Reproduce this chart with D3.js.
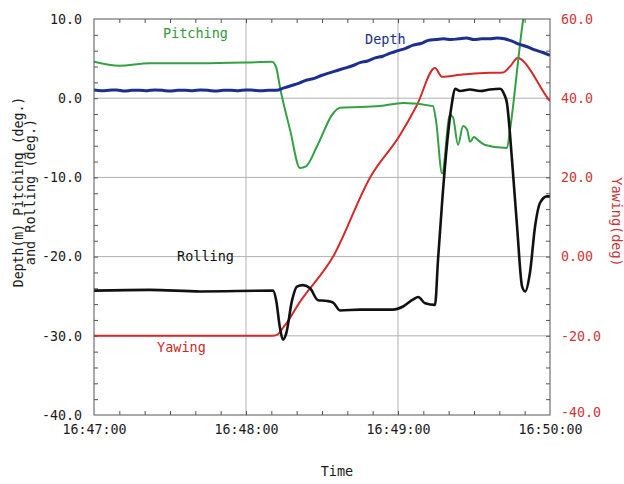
<!DOCTYPE html>
<html><head><meta charset="utf-8">
<script src="https://cdn.jsdelivr.net/npm/d3@7"></script>
<style>body{margin:0;background:#fff} text{font-family:"DejaVu Sans Mono","Liberation Mono",monospace}</style>
</head><body><svg id="c" width="624" height="484"></svg>
<script>
// ---- data (time in seconds after 16:47:00) ----
const timeTickLabels = ["16:47:00","16:48:00","16:49:00","16:50:00"];
const leftTicks = [10,0,-10,-20,-30,-40];
const rightTicks = [60,40,20,0,-20,-40];
const rightTickLabels = ["60.0","40.0","20.0","0.00","-20.0","-40.0"];

const depthT = [0,3,6,9,12,15,18,21,24,27,30,33,36,39,42,45,48,51,54,57,60,63,66,69,72,
  75,78,81,84,87,90,93,96,99,102,105,108,111,114,117,120,123,126,129,132,135,
  138,141,144,147,150,153,156,159,162,165,168,171,174,177,180];
const depthV = [1.05,0.95,1.0,1.05,0.9,1.0,1.0,0.95,1.05,1.0,0.9,1.0,1.0,0.95,1.05,1.0,0.9,1.0,1.0,0.95,1.05,1.0,0.95,1.0,1.0,
  1.3,1.6,1.9,2.3,2.5,2.9,3.2,3.5,3.8,4.1,4.5,4.7,5.1,5.3,5.7,6.0,6.3,6.7,6.9,7.3,7.4,
  7.5,7.4,7.5,7.6,7.4,7.5,7.5,7.6,7.5,7.2,6.8,6.5,6.1,5.8,5.4];

const pitchT = [0,10,22,42,60,70.3,72,73.4,77.4,81.3,83.7,88,94.4,97.1,112.9,122,133.8,135,137.4,140.5,141.7,143.7,145.7,147.3,148.4,150,151.6,154.4,163,164.2,169.4,171];
const pitchV = [4.6,4.1,4.4,4.4,4.5,4.6,3.8,1.4,-4,-8.8,-8.6,-6.1,-1.9,-1.2,-1.0,-0.6,-1.0,-2.8,-9.5,-2.1,-2.4,-5.9,-3.5,-4.0,-5.5,-4.9,-5.3,-5.9,-6.3,-4.0,9.9,13];

const rollT = [0,22,42,70.7,71.9,73.4,74.6,75.8,78.2,80.1,82.5,85.3,88.4,92,94.4,97.1,105,118,122,126,128,130.7,134.6,135.8,137.4,139.4,141.3,142.5,144.5,148.4,152.4,156.3,160.3,161.9,163,165,167,169,170.2,172.1,174.1,176.1,178.8,180];
const rollV = [-24.3,-24.2,-24.4,-24.3,-25.5,-29,-30.5,-29.8,-25.5,-23.8,-23.6,-24.0,-25.5,-25.6,-25.8,-26.8,-26.7,-26.7,-26.3,-25.4,-25.1,-25.9,-26.1,-20.4,-13.2,-5.6,-0.6,1.2,0.9,1.1,0.9,1.1,1.2,0.5,-0.6,-7.8,-16.2,-23.8,-24.4,-22.0,-16.2,-13.2,-12.4,-12.4];

const yawT = [0,70.7,72.6,74.6,77.4,80.1,94.4,109,120.8,127.5,134.6,137.4,144.5,156.3,161.5,164.2,167.4,168.6,179.6,180];
const yawV = [-20,-20,-19.6,-18,-15.5,-12.6,0,20,30.7,38.3,47.6,45.4,45.9,46.4,46.5,48,50.2,49.8,39.6,39.3];

const seriesLabels = [
  {text:"Pitching", t:27.2, v:7.6, color:"#2f9a3c"},
  {text:"Depth", t:107, v:6.85, color:"#1c2f8a"},
  {text:"Rolling", t:32.8, v:-20.5, color:"#111"},
  {text:"Yawing", t:24.9, v:-32.0, color:"#cc2a2a"}
];

// ---- layout ----
const L=94, R=550, T=19, B=415;
const base = new Date(2000,0,1,16,47,0);
const toDate = s => new Date(base.getTime()+s*1000);
const svg = d3.select("#c");
const x = d3.scaleTime().domain([toDate(0), toDate(180)]).range([L,R]);
const yL = d3.scaleLinear().domain([-40,10]).range([B,T]);
const yR = d3.scaleLinear().domain([-40,60]).range([B,T]);

// gridlines
const g = svg.append("g");
g.selectAll("line.h").data(leftTicks.filter(v=>v>-40&&v<10)).join("line")
  .attr("x1",L).attr("x2",R).attr("y1",d=>yL(d)).attr("y2",d=>yL(d))
  .attr("stroke","#b0b0b0").attr("stroke-width",1);
g.selectAll("line.v").data([60,120]).join("line")
  .attr("x1",d=>x(toDate(d))).attr("x2",d=>x(toDate(d))).attr("y1",T).attr("y2",B)
  .attr("stroke","#b0b0b0").attr("stroke-width",1);

// minor ticks (inward)
const minorX = d3.range(10,180,10).map(toDate);
svg.append("g").attr("transform",`translate(0,${B})`)
  .call(d3.axisBottom(x).tickValues(minorX).tickSize(-4).tickFormat(""))
  .call(a=>a.select(".domain").remove()).selectAll("line").attr("stroke","#555");
svg.append("g").attr("transform",`translate(0,${T})`)
  .call(d3.axisTop(x).tickValues(minorX).tickSize(-4).tickFormat(""))
  .call(a=>a.select(".domain").remove()).selectAll("line").attr("stroke","#555");
svg.append("g").attr("transform",`translate(${L},0)`)
  .call(d3.axisLeft(yL).tickValues(d3.range(-38,10,2)).tickSize(-4).tickFormat(""))
  .call(a=>a.select(".domain").remove()).selectAll("line").attr("stroke","#555");
svg.append("g").attr("transform",`translate(${R},0)`)
  .call(d3.axisRight(yR).tickValues(d3.range(-36,60,4)).tickSize(-4).tickFormat(""))
  .call(a=>a.select(".domain").remove()).selectAll("line").attr("stroke","#555");

// labelled axes
const ax = svg.append("g").attr("transform",`translate(0,${B})`)
  .call(d3.axisBottom(x).tickValues([0,60,120,180].map(toDate)).tickSize(0).tickPadding(10).tickFormat((d,i)=>timeTickLabels[i]));
ax.select(".domain").remove();
ax.selectAll("text").attr("font-size",13.3).attr("fill","#1a1a1a").style("font-family","DejaVu Sans Mono");
const ayl = svg.append("g").attr("transform",`translate(${L},0)`)
  .call(d3.axisLeft(yL).tickValues(leftTicks).tickSize(0).tickPadding(12).tickFormat(d=>d.toFixed(1)));
ayl.select(".domain").remove();
ayl.selectAll("text").attr("font-size",13.3).attr("fill","#1a1a1a").style("font-family","DejaVu Sans Mono");
const ayr = svg.append("g").attr("transform",`translate(${R},0)`)
  .call(d3.axisRight(yR).tickValues(rightTicks).tickSize(0).tickPadding(11).tickFormat((d,i)=>rightTickLabels[i]));
ayr.select(".domain").remove();
ayr.selectAll("text").attr("font-size",13.3).attr("fill","#c8373a").style("font-family","DejaVu Sans Mono");
ayr.selectAll("text").filter(d=>d===-40).attr("dy","0.1em");

// clip
svg.append("clipPath").attr("id","clip").append("rect").attr("x",L).attr("y",T).attr("width",R-L).attr("height",B-T);
const plot = svg.append("g").attr("clip-path","url(#clip)");
function addLine(ts, vs, ys, color, w){
  const data = ts.map((t,i)=>({t:toDate(t), v:vs[i]}));
  plot.append("path").datum(data)
    .attr("d", d3.line().x(d=>x(d.t)).y(d=>ys(d.v)).curve(d3.curveMonotoneX))
    .attr("fill","none").attr("stroke",color).attr("stroke-width",w).attr("stroke-linejoin","round");
}
addLine(yawT, yawV, yR, "#d42a2a", 2);
addLine(pitchT, pitchV, yL, "#33a043", 2);
addLine(rollT, rollV, yL, "#111111", 2.6);
addLine(depthT, depthV, yL, "#1c2f8f", 3);

// frame
svg.append("rect").attr("x",L).attr("y",T).attr("width",R-L).attr("height",B-T)
  .attr("fill","none").attr("stroke","#555").attr("stroke-width",1);

// series labels
svg.selectAll("text.sl").data(seriesLabels).join("text")
  .attr("x",d=>x(toDate(d.t))).attr("y",d=>yL(d.v))
  .attr("font-size",13.5).attr("fill",d=>d.color).text(d=>d.text);

// axis titles
svg.append("text").attr("x",337).attr("y",476).attr("text-anchor","middle")
  .attr("font-size",13.5).attr("fill","#1a1a1a").text("Time");
const yt = svg.append("g").attr("transform","translate(0,192) rotate(-90)");
yt.append("text").attr("x",0).attr("y",23).attr("text-anchor","middle")
  .attr("font-size",13.2).attr("fill","#1a1a1a").text("Depth(m) Pitching (deg.)");
yt.append("text").attr("x",0).attr("y",35).attr("text-anchor","middle")
  .attr("font-size",13.5).attr("fill","#1a1a1a").text("and Rolling (deg.)");
svg.append("text").attr("transform","translate(612,222) rotate(90)").attr("text-anchor","middle")
  .attr("font-size",13.5).attr("fill","#c8373a").text("Yawing(deg)");
</script></body></html>
